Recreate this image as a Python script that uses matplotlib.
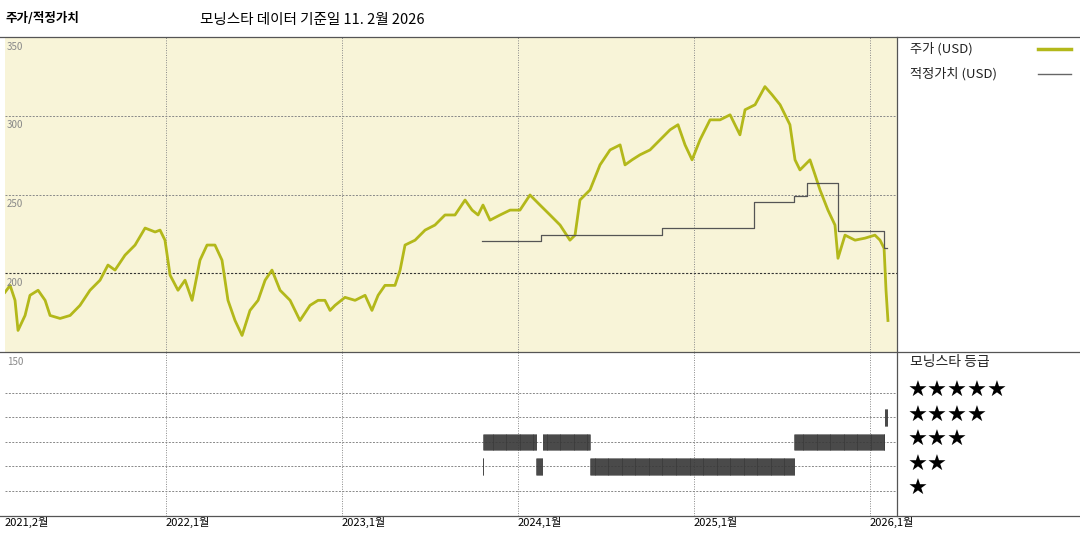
import matplotlib
matplotlib.use("Agg")
import matplotlib.pyplot as plt
from matplotlib.lines import Line2D
import numpy as np

plt.rcParams['font.family'] = ['Noto Sans CJK KR', 'DejaVu Sans']

# price (decimal year, USD)
price_t = [2021.085,2021.114,2021.142,2021.159,2021.199,2021.227,2021.273,2021.313,2021.341,2021.398,2021.455,2021.511,
 2021.568,2021.625,2021.670,2021.710,2021.767,2021.824,2021.881,2021.938,2021.966,2021.994,2022.023,2022.068,2022.108,
 2022.148,2022.193,2022.233,2022.278,2022.318,2022.352,2022.392,2022.432,2022.477,2022.523,2022.563,2022.602,2022.648,
 2022.705,2022.761,2022.818,2022.864,2022.903,2022.932,2022.960,2023.017,2023.074,2023.131,2023.170,2023.205,2023.244,
 2023.301,2023.330,2023.358,2023.415,2023.472,2023.528,2023.585,2023.642,2023.699,2023.739,2023.773,2023.801,2023.841,
 2023.898,2023.955,2024.011,2024.068,2024.125,2024.182,2024.239,2024.295,2024.324,2024.352,2024.409,2024.466,2024.523,
 2024.580,2024.608,2024.648,2024.693,2024.750,2024.807,2024.864,2024.909,2024.949,2024.989,2025.034,2025.091,2025.148,
 2025.205,2025.261,2025.290,2025.347,2025.403,2025.443,2025.489,2025.545,2025.574,2025.602,2025.659,2025.688,2025.716,
 2025.761,2025.801,2025.818,2025.858,2025.915,2025.972,2026.028,2026.057,2026.080,2026.091,2026.102]
price_v = [187.9,192.3,182.8,163.7,173.2,186.0,189.2,182.8,173.2,171.3,173.2,179.6,
 189.2,195.6,205.2,202.0,211.5,217.9,228.7,226.2,227.4,221.0,198.8,189.2,195.6,
 182.8,208.3,217.9,217.9,208.3,182.8,170.0,160.5,176.4,182.8,195.6,202.0,189.2,
 182.8,170.0,179.6,182.8,182.8,176.4,179.6,184.7,182.8,186.0,176.4,186.0,192.3,
 192.3,202.0,217.9,221.0,227.4,230.6,237.0,237.0,246.5,240.1,237.0,243.3,233.7,
 237.0,240.1,240.1,249.7,243.3,237.0,230.6,221.0,224.2,246.5,252.9,268.8,278.3,
 281.5,268.8,272.0,275.2,278.3,284.7,291.1,294.3,281.5,272.0,284.7,297.4,297.4,
 300.6,287.9,303.8,307.0,318.5,313.4,307.0,294.3,272.0,265.6,272.0,262.4,252.9,
 240.1,230.6,209.5,224.2,221.0,222.3,224.2,221.0,215.9,189.2,170.0]

# fair value steps
fv_t = [2023.795, 2024.13, 2024.82, 2025.34, 2025.57, 2025.64, 2025.82, 2026.08, 2026.095]
fv_v = [220.5, 224.5, 228.5, 245.0, 249.0, 257.5, 227.0, 216.0, 216.0]

# star rating periods (start, end, stars)
rating_periods = [(2023.800, 2023.803, 2), (2023.803, 2024.105, 3), (2024.105, 2024.140, 2),
                  (2024.140, 2024.410, 3), (2024.410, 2025.570, 2), (2025.570, 2026.085, 3),
                  (2026.085, 2026.100, 4)]

year_ticks = [2021.085, 2022.0, 2023.0, 2024.0, 2025.0, 2026.0]
year_labels = ["2021,2월", "2022,1월", "2023,1월", "2024,1월", "2025,1월", "2026,1월"]
price_labels = [350, 300, 250, 200]

W, H = 1080, 540
fig = plt.figure(figsize=(W/100, H/100), dpi=100)
x0, x1 = 5/W, 897/W
xlim = (2021.085, 2022.0 + (897-166)/176)

ax = fig.add_axes([x0, 1-352/H, x1-x0, (352-37)/H])
ax.set_facecolor('#f8f4d8')
ax.set_xlim(*xlim); ax.set_ylim(150, 350)
for y in [300, 250]:
    ax.axhline(y, color='#888888', lw=0.7, ls=(0, (2, 1.5)))
ax.axhline(200, color='#333333', lw=0.8, ls=(0, (2, 1.5)))
for t in year_ticks[1:]:
    ax.axvline(t, color='#888888', lw=0.7, ls=(0, (1, 1.5)))
ax.plot(price_t, price_v, color='#b3b81a', lw=2)
ax.step(fv_t, fv_v, where='post', color='#555555', lw=0.9)
for v in price_labels:
    ax.text(xlim[0]+0.01, v-3, str(v), fontsize=7, color='#888888', va='top', ha='left')
ax.set_xticks([]); ax.set_yticks([])
for s in ax.spines.values():
    s.set_visible(False)

ax2 = fig.add_axes([x0, 1-516/H, x1-x0, (516-352)/H])
ax2.set_xlim(*xlim); ax2.set_ylim(-0.02, 6.67)
for r in [1, 2, 3, 4, 5]:
    ax2.axhline(r, color='#888888', lw=0.7, ls=(0, (2, 1.5)))
for t in year_ticks[1:]:
    ax2.axvline(t, color='#888888', lw=0.7, ls=(0, (1, 1.5)))
for (a, b, r) in rating_periods:
    xs = np.arange(a, b + 1e-9, 1/365)
    ax2.vlines(xs, r-0.33, r+0.33, color='#3a3a3a', lw=0.6, alpha=0.85)
ax2.text(xlim[0]+0.01, 6.45, "150", fontsize=7, color='#888888', va='top', ha='left')
ax2.set_xticks([]); ax2.set_yticks([])
for s in ax2.spines.values():
    s.set_visible(False)

def xf(t):
    return x0 + (t - xlim[0]) / (xlim[1] - xlim[0]) * (x1 - x0)
for t, lab in zip(year_ticks, year_labels):
    fig.text(xf(t), 1-522/H, lab, fontsize=8, va='center', ha='left')

for yy in [37, 352, 516]:
    fig.add_artist(Line2D([0, 1], [1-yy/H]*2, color='#555555', lw=0.9))
fig.add_artist(Line2D([x1, x1], [1-37/H, 1-516/H], color='#555555', lw=0.9))

fig.text(5/W, 1-18/H, "주가/적정가치", fontsize=9, fontweight='bold', va='center')
fig.text(200/W, 1-20/H, "모닝스타 데이터 기준일 11. 2월 2026", fontsize=10.5, va='center')
fig.text(910/W, 1-49/H, "주가 (USD)", fontsize=9.5, va='center', color='#222222')
fig.add_artist(Line2D([1038/W, 1071/W], [1-49/H]*2, color='#b3b81a', lw=2.5))
fig.text(910/W, 1-74/H, "적정가치 (USD)", fontsize=9.5, va='center', color='#222222')
fig.add_artist(Line2D([1038/W, 1071/W], [1-74/H]*2, color='#666666', lw=1))
fig.text(910/W, 1-362/H, "모닝스타 등급", fontsize=10, va='center', color='#222222')
for i, n in enumerate([5, 4, 3, 2, 1]):
    fig.text(908/W, 1-(391+24.5*i)/H, "★"*n, fontsize=16, va='center', family='DejaVu Sans')

fig.savefig("out.png", dpi=100, facecolor='white')
